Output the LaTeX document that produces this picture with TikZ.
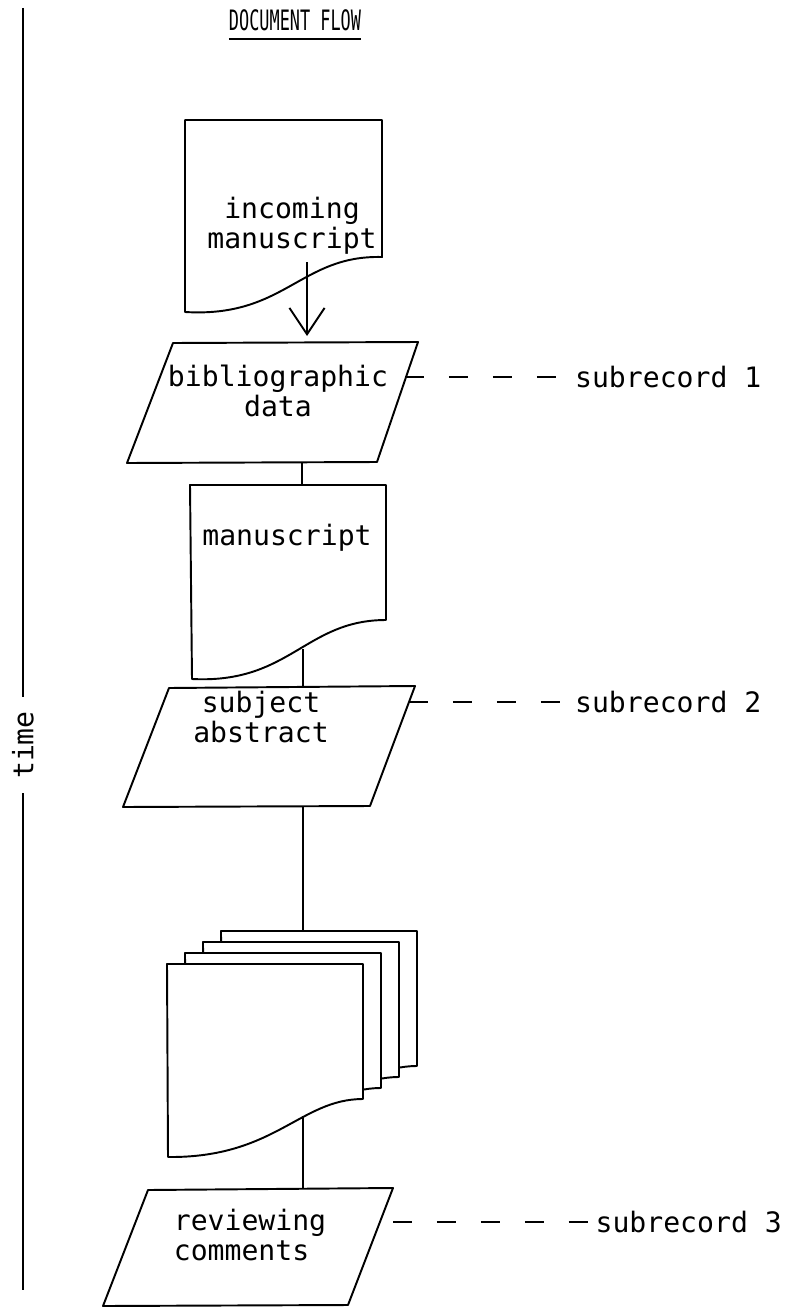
\documentclass[tikz,border=0pt]{standalone}
\usepackage{fontspec}
\newfontfamily\typewr{DejaVu Sans Mono}
\usetikzlibrary{arrows.meta}
\tikzset{
  sheet/.style={draw, line width=1.1pt, fill=white},
  card/.style={draw, line width=1.1pt},
  txt/.style={font=\typewr\fontsize{16}{17}\selectfont, align=center, inner sep=0pt},
  link/.style={line width=1.1pt},
  tie/.style={line width=1.1pt, dash pattern=on 11pt off 14pt},
}
\begin{document}
\begin{tikzpicture}[x=0.02cm, y=-0.02cm, line join=round]
        \useasboundingbox (0,0) rectangle (799,1308);
        %heading and time axis
            \draw (295,20) node(head) [txt, xscale=0.6] {DOCUMENT FLOW};
            \draw[line width=0.8pt] ([yshift=-4.5pt]head.south west) to ([yshift=-4.5pt]head.south east);
            \draw (23,745) node(time) [txt, rotate=90, inner sep=8pt] {time};
            \coordinate (t0) at (23,8);
            \coordinate (t1) at (23,1290);
            \draw[link] (t0) to (time.east);
            \draw[link] (time.west) to (t1);

        %incoming manuscript
            \draw[sheet] (185,120) -- (382,120) -- (382,257)
                  .. controls (300,255) and (285,318) .. (185,312) -- cycle;
            \draw (292,226) node(inc) [txt] {incoming\\manuscript};
            \coordinate (incb) at (307,262);

        %subrecord 1
            \draw[card] (173,343) -- (418,342) -- (377,462) -- (127,463) -- cycle;
            \draw (278,391) node(bib) [txt] {bibliographic\\data};
            \coordinate (bibt) at (307,336);
            \coordinate (bibb) at (302,463);
            \coordinate (bibr) at (405,377);
            \draw (566,377) node(sub1) [txt, anchor=west, inner sep=5pt] {subrecord 1};
            \draw[link, -{Straight Barb[length=15pt,width=20pt]}] (incb) to (bibt);
            \draw[tie] (bibr) to (sub1.west);

        %manuscript
            \draw[sheet] (190,485) -- (386,485) -- (386,620)
                  .. controls (305,620) and (290,684) .. (192,679) -- cycle;
            \draw (287,538) node(man) [txt] {manuscript};
            \coordinate (mant) at (302,485);
            \coordinate (manb) at (303,649);
            \draw[link] (bibb) to (mant);

        %subrecord 2
            \draw[card] (169,688) -- (415,686) -- (370,806) -- (123,807) -- cycle;
            \draw (261,717) node(subj) [txt] {subject\\abstract};
            \coordinate (subjt) at (303,687);
            \coordinate (subjb) at (303,807);
            \coordinate (subjr) at (409,702);
            \draw (566,702) node(sub2) [txt, anchor=west, inner sep=5pt] {subrecord 2};
            \draw[link] (manb) to (subjt);
            \draw[tie] (subjr) to (sub2.west);

        %stack of reviews
            \foreach \k in {3,2,1,0}
              \draw[sheet, shift={(18*\k,-11*\k)}] (167,964) -- (363,964) -- (363,1099)
                  .. controls (300,1099) and (275,1158) .. (168,1157) -- cycle;
            \coordinate (revt) at (303,931);
            \coordinate (revb) at (303,1116);
            \draw[link] (subjb) to (revt);

        %subrecord 3
            \draw[card] (148,1190) -- (393,1188) -- (348,1305) -- (103,1306) -- cycle;
            \draw (250,1235) node(comm) [txt, align=left] {reviewing\\comments};
            \coordinate (commt) at (303,1189);
            \coordinate (commr) at (393,1222);
            \draw (590,1222) node(sub3) [txt, anchor=west, inner sep=3pt] {subrecord 3};
            \draw[link] (revb) to (commt);
            \draw[tie] (commr) to (sub3.west);
\end{tikzpicture}
\end{document}
